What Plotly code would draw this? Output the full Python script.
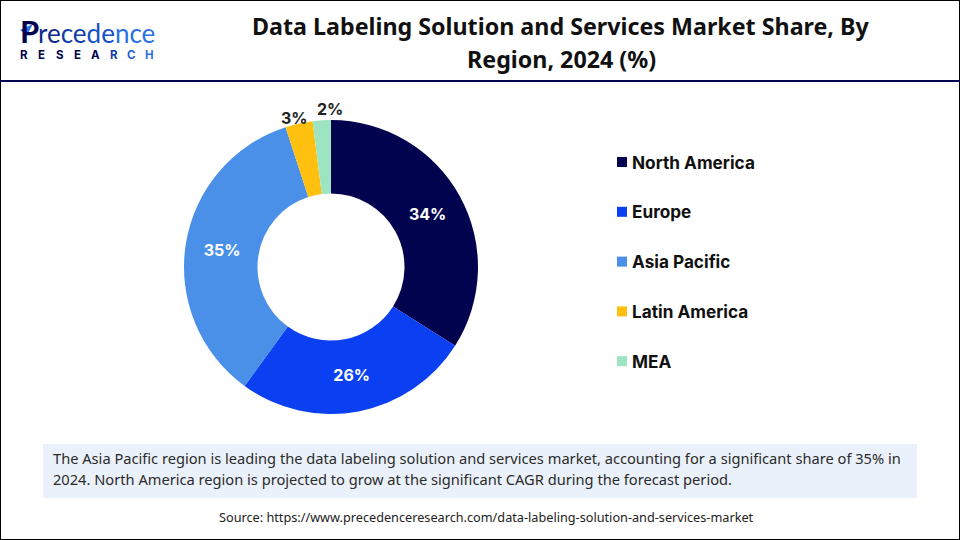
import plotly.graph_objects as go

W, H = 960, 540

regions = ["North America", "Europe", "Asia Pacific", "Latin America", "MEA"]
shares = [34, 26, 35, 3, 2]
colors = ["#02034F", "#0A40F2", "#4A90E8", "#FFC010", "#9CE5C0"]
label_spots = ["inside", "inside", "inside", "none", "none"]

title_lines = ["Data Labeling Solution and Services Market Share, By", "Region, 2024 (%)"]
note_lines = [
    "The Asia Pacific region is leading the data labeling solution and services market, accounting for a significant share of 35% in",
    "2024. North America region is projected to grow at the significant CAGR during the forecast period.",
]
source_text = "Source: https://www.precedenceresearch.com/data-labeling-solution-and-services-market"
logo_top = [("re", "#0F2A8C"), ("ce", "#123CA8"), ("de", "#1550C4"), ("nce", "#2A72E0")]
logo_bottom = list("RESEARCH")
logo_bottom_colors = ["#02034F"] * 5 + ["#123CA8", "#1F5FD0", "#2A72E0"]

TITLE_FONT = "Noto Sans"
LABEL_FONT = "Inter"
BODY_FONT = "Noto Sans"


def px(x):
    return x / W


def py(y):
    return 1 - y / H


fig = go.Figure()

fig.add_trace(go.Pie(
    labels=regions,
    values=shares,
    hole=0.5,
    sort=False,
    direction="clockwise",
    rotation=0,
    marker=dict(colors=colors, line=dict(width=0)),
    texttemplate="%{value}%",
    textposition=label_spots,
    insidetextorientation="horizontal",
    textfont=dict(family=LABEL_FONT, size=16, color="white", weight=700),
    domain=dict(x=[px(184), px(478)], y=[py(414), py(120)]),
    showlegend=False,
    hoverinfo="label+percent",
))

shapes = [
    # outer frame
    dict(type="rect", xref="paper", yref="paper", x0=0, x1=1, y0=0, y1=1,
         line=dict(color="#000000", width=2), fillcolor="rgba(0,0,0,0)"),
    # header rule
    dict(type="line", xref="paper", yref="paper", x0=0, x1=1, y0=py(81), y1=py(81),
         line=dict(color="#02034F", width=2)),
    # note box
    dict(type="rect", xref="paper", yref="paper", x0=px(43), x1=px(917), y0=py(498), y1=py(444),
         line=dict(width=0), fillcolor="#EAF1FA", layer="below"),
    # leaf on the logo P
    dict(type="path", xref="paper", yref="paper",
         path=f"M {px(20)} {py(30)} L {px(33)} {py(24)} L {px(27)} {py(35)} Z",
         line=dict(width=0), fillcolor="#2A72E0"),
]

annotations = [
    dict(text=source_text, x=px(486), y=py(517), xref="paper", yref="paper",
         showarrow=False, xanchor="center", yanchor="middle",
         font=dict(family=BODY_FONT, size=12.7, color="#222222")),
]

for line, yc in zip(title_lines, [26, 59]):
    annotations.append(dict(
        text=line, x=px(561), y=py(yc), xref="paper", yref="paper",
        showarrow=False, xanchor="center", yanchor="middle",
        font=dict(family=TITLE_FONT, size=23.25, color="#111111", weight=700),
    ))

for i, line in enumerate(note_lines):
    annotations.append(dict(
        text=line, x=px(51), y=py(458 + i * 21), xref="paper", yref="paper",
        showarrow=False, xanchor="left", yanchor="middle",
        font=dict(family=BODY_FONT, size=14.65, color="#2B2B2B"),
    ))

# legend built by hand, spacing is wider than plotly's own
for i, (name, col) in enumerate(zip(regions, colors)):
    yc = 162 + i * 49.8
    shapes.append(dict(type="rect", xref="paper", yref="paper",
                       x0=px(617), x1=px(627), y0=py(yc + 5), y1=py(yc - 5),
                       line=dict(width=0), fillcolor=col))
    annotations.append(dict(text=name, x=px(630), y=py(yc), xref="paper", yref="paper",
                            showarrow=False, xanchor="left", yanchor="middle",
                            font=dict(family=LABEL_FONT, size=17.2, color="#111111", weight=700)))

# thin slices get their labels above the ring
for i, xp, yp in [(3, 294, 118), (4, 330, 109)]:
    annotations.append(dict(text=f"{shares[i]}%", x=px(xp), y=py(yp), xref="paper", yref="paper",
                            showarrow=False, xanchor="center", yanchor="middle",
                            font=dict(family=LABEL_FONT, size=16, color="#222222", weight=700)))

# logo
logo_html = "".join(f'<span style="color:{c}">{t}</span>' for t, c in logo_top)
annotations.append(dict(text="P", x=px(18), y=py(31), xref="paper", yref="paper",
                        showarrow=False, xanchor="left", yanchor="middle",
                        width=19, height=28,
                        font=dict(family="Lato", size=31, color="#02034F", weight=700)))
annotations.append(dict(text=logo_html, x=px(36), y=py(33), xref="paper", yref="paper",
                        showarrow=False, xanchor="left", yanchor="middle",
                        height=24,
                        font=dict(family="Lato", size=26)))
for i, (ch, c) in enumerate(zip(logo_bottom, logo_bottom_colors)):
    annotations.append(dict(text=ch, x=px(24 + i * 17.9), y=py(55.5), xref="paper", yref="paper",
                            showarrow=False, xanchor="center", yanchor="middle",
                            height=12,
                            font=dict(family=LABEL_FONT, size=11.5, color=c, weight=700)))

fig.update_layout(
    width=W, height=H,
    margin=dict(l=0, r=0, t=0, b=0),
    paper_bgcolor="white",
    plot_bgcolor="white",
    shapes=shapes,
    annotations=annotations,
)

# default page has an 8px body margin
fig.write_html("out.html", config=dict(displayModeBar=False),
               post_script="document.body.style.margin='0';")
